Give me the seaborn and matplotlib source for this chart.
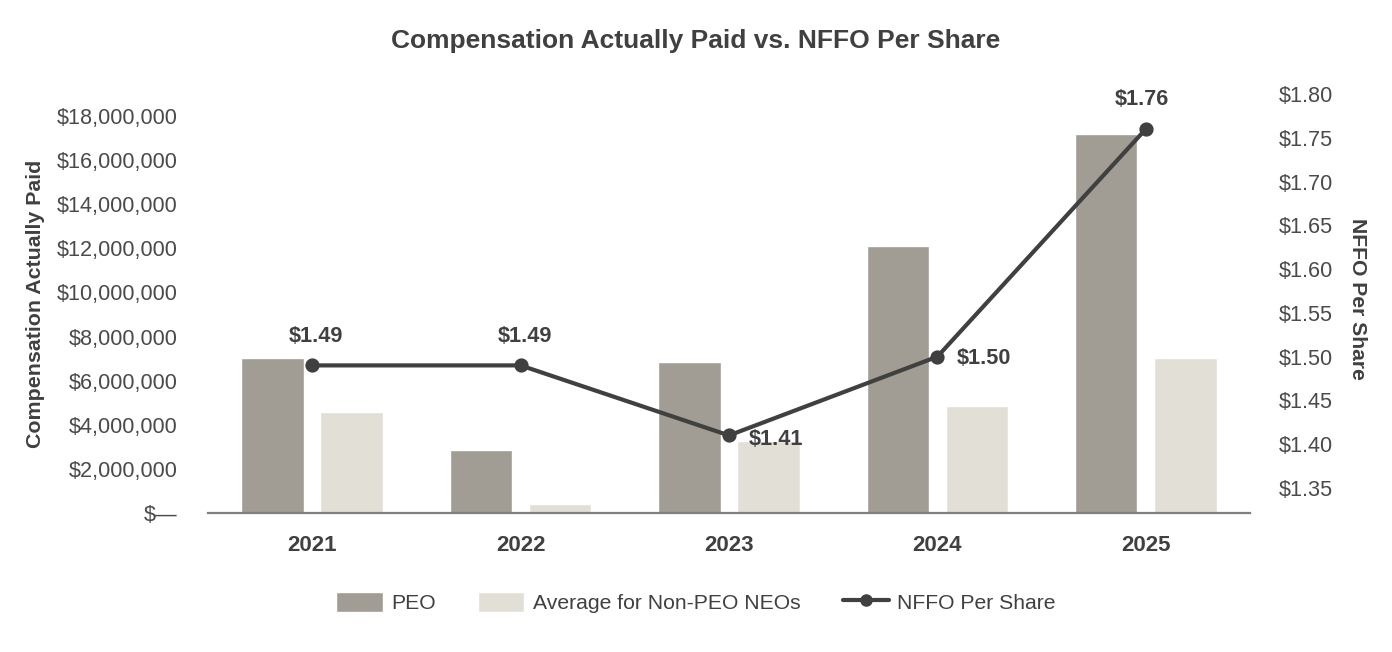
import pandas as pd
import matplotlib.pyplot as plt
import seaborn as sns
from matplotlib.patches import Patch
from matplotlib.lines import Line2D
from matplotlib.ticker import FuncFormatter

# Data
years = ["2021", "2022", "2023", "2024", "2025"]
peo_cap = [7030000, 2860000, 6850000, 12100000, 17200000]
non_peo_cap = [4580000, 410000, 3260000, 4850000, 7030000]
nffo_per_share = [1.49, 1.49, 1.41, 1.50, 1.76]
series_names = ["PEO", "Average for Non-PEO NEOs"]
line_name = "NFFO Per Share"

left_ticks = [0, 2000000, 4000000, 6000000, 8000000, 10000000,
              12000000, 14000000, 16000000, 18000000]
right_ticks = [1.35, 1.40, 1.45, 1.50, 1.55, 1.60, 1.65, 1.70, 1.75, 1.80]

# label placement (offset in points, alignment) per point
label_offsets = [(3, 21, "center"), (3, 21, "center"), (14, -3, "left"),
                 (14, -1, "left"), (-3, 21, "center")]

bar_colors = ["#a19c94", "#e2dfd6"]
line_color = "#404040"
text_color = "#404040"

sns.set_theme(style="white")
plt.rcParams["font.family"] = ["Liberation Sans", "DejaVu Sans"]

df = pd.DataFrame({
    "year": years * 2,
    "value": peo_cap + non_peo_cap,
    "series": [series_names[0]] * len(years) + [series_names[1]] * len(years),
})
df_line = pd.DataFrame({"year": years, "nffo": nffo_per_share})

fig = plt.figure(figsize=(13.92, 6.52), dpi=100)
ax = fig.add_axes([0.1494, 0.2132, 0.7486, 0.6426])

sns.barplot(data=df, x="year", y="value", hue="series", hue_order=series_names,
            palette=bar_colors, width=0.76, gap=0.21, saturation=1,
            legend=False, ax=ax)

ax.set_xlim(-0.5, 4.5)
ax.set_ylim(0, 19000000)
ax.set_yticks(left_ticks)
ax.yaxis.set_major_formatter(FuncFormatter(lambda v, p: "$\u2014" if v == 0 else f"${v:,.0f}"))
ax.tick_params(axis="y", length=0, pad=22, labelsize=15.6, labelcolor="#4a4a4a")
ax.tick_params(axis="x", length=0, pad=16, labelsize=16, labelcolor=text_color)
for lbl in ax.get_xticklabels():
    lbl.set_fontweight("bold")
ax.set_xlabel("")
ax.set_ylabel("Compensation Actually Paid", fontsize=15.4, fontweight="bold", color=text_color)
ax.yaxis.set_label_coords(-0.1565, 0.5)
for s in ["top", "right", "left"]:
    ax.spines[s].set_visible(False)
ax.spines["bottom"].set_color("#808080")
ax.spines["bottom"].set_linewidth(1.6)

ax2 = ax.twinx()
sns.pointplot(data=df_line, x="year", y="nffo", color=line_color, markers="o",
              errorbar=None, markersize=8, linewidth=3, ax=ax2)
ax2.set_xlim(-0.5, 4.5)
ax2.set_ylim(1.3214, 1.80)
ax2.set_yticks(right_ticks)
ax2.yaxis.set_major_formatter(FuncFormatter(lambda v, p: f"${v:.2f}"))
ax2.tick_params(axis="y", length=0, pad=21, labelsize=15.6, labelcolor="#4a4a4a")
ax2.set_ylabel("NFFO Per Share", fontsize=15.2, fontweight="bold", color=text_color,
               rotation=270, va="center")
ax2.yaxis.set_label_coords(1.1036, 0.51)
ax2.set_xlabel("")
for s in ax2.spines.values():
    s.set_visible(False)

for i, v in enumerate(nffo_per_share):
    dx, dy, ha = label_offsets[i]
    ax2.annotate(f"${v:.2f}", (i, v), xytext=(dx, dy), textcoords="offset points",
                 ha=ha, va="center", fontsize=15.6, fontweight="bold", color=text_color)

fig.text(0.5, 1 - 41 / 652, "Compensation Actually Paid vs. NFFO Per Share",
         ha="center", va="center", fontsize=19, fontweight="bold", color=text_color)

handles = [Patch(facecolor=bar_colors[0]), Patch(facecolor=bar_colors[1]),
           Line2D([0], [0], color=line_color, lw=3, marker="o", markersize=8)]
fig.legend(handles, series_names + [line_name], loc="center",
           bbox_to_anchor=(0.5, 0.076), ncol=3, frameon=False, fontsize=15.2,
           handlelength=2.2, handleheight=1.05, handletextpad=0.4,
           columnspacing=2.0, labelcolor=text_color)

fig.savefig("out.png", dpi=100)
